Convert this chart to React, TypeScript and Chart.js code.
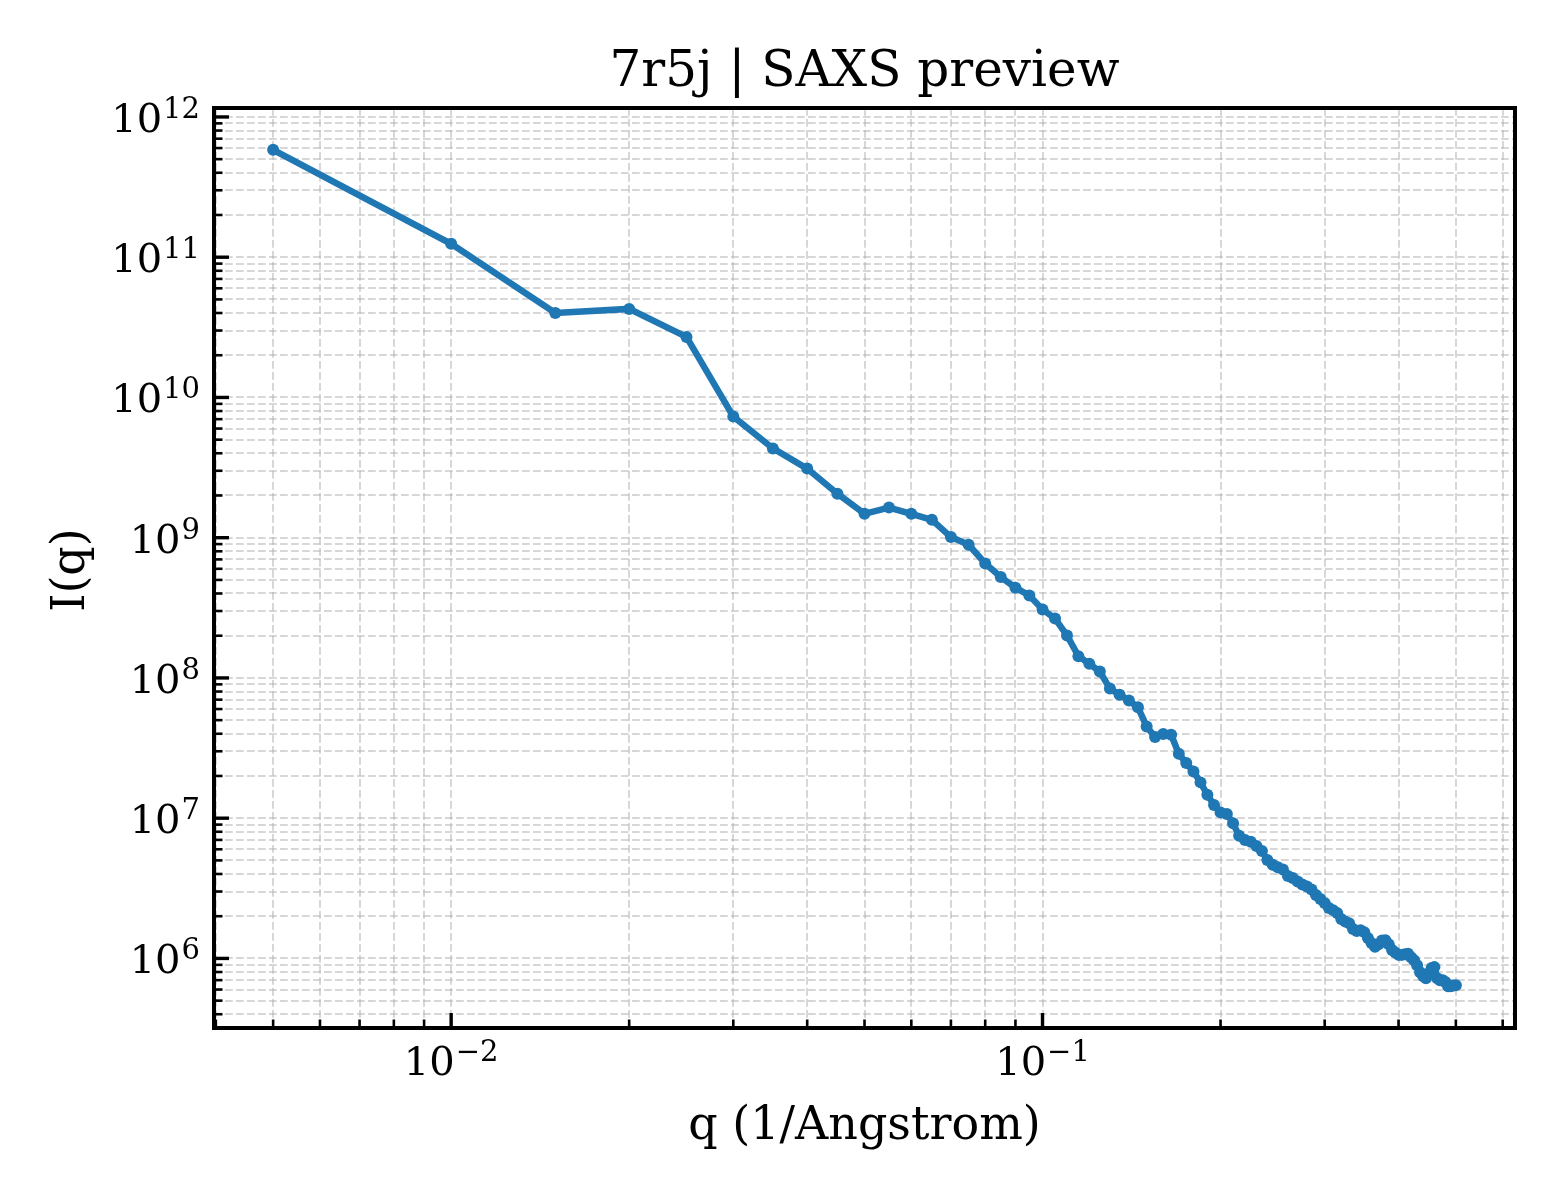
import { useEffect, useRef } from 'react';
import Chart, { type Plugin, type Scale } from 'chart.js/auto';

// scattering vector q (1/Angstrom)
const Q_VALUES: number[] = [
  0.005, 0.01, 0.015, 0.02, 0.025, 0.03, 0.035, 0.04, 0.045, 0.05,
  0.055, 0.06, 0.065, 0.07, 0.075, 0.08, 0.085, 0.09, 0.095, 0.1,
  0.105, 0.11, 0.115, 0.12, 0.125, 0.13, 0.135, 0.14, 0.145, 0.15,
  0.155, 0.16, 0.165, 0.17, 0.175, 0.18, 0.185, 0.19, 0.195, 0.2,
  0.205, 0.21, 0.215, 0.22, 0.225, 0.23, 0.235, 0.24, 0.245, 0.25,
  0.255, 0.26, 0.265, 0.27, 0.275, 0.28, 0.285, 0.29, 0.295, 0.3,
  0.305, 0.31, 0.315, 0.32, 0.325, 0.33, 0.335, 0.34, 0.345, 0.35,
  0.355, 0.36, 0.365, 0.37, 0.375, 0.38, 0.385, 0.39, 0.395, 0.4,
  0.405, 0.41, 0.415, 0.42, 0.425, 0.43, 0.435, 0.44, 0.445, 0.45,
  0.455, 0.46, 0.465, 0.47, 0.475, 0.48, 0.485, 0.49, 0.495, 0.5,
];

// scattered intensity I(q)
const INTENSITY: number[] = [
  5.83e11, 1.245e11, 4.0e10, 4.28e10, 2.7e10, 7.31e9, 4.33e9, 3.11e9, 2.06e9, 1.48e9,
  1.64e9, 1.48e9, 1.34e9, 1.01e9, 8.9e8, 6.55e8, 5.24e8, 4.4e8, 3.87e8, 3.08e8,
  2.65e8, 2.01e8, 1.43e8, 1.26e8, 1.11e8, 8.4e7, 7.6e7, 6.9e7, 6.17e7, 4.51e7,
  3.79e7, 3.98e7, 3.94e7, 2.88e7, 2.47e7, 2.15e7, 1.8e7, 1.47e7, 1.24e7, 1.1e7,
  1.07e7, 9.2e6, 7.48e6, 7.0e6, 6.8e6, 6.34e6, 5.83e6, 5.04e6, 4.65e6, 4.46e6,
  4.31e6, 3.87e6, 3.75e6, 3.54e6, 3.37e6, 3.26e6, 3.1e6, 2.83e6, 2.65e6, 2.48e6,
  2.29e6, 2.21e6, 2.11e6, 1.91e6, 1.83e6, 1.78e6, 1.62e6, 1.57e6, 1.59e6, 1.54e6,
  1.4e6, 1.29e6, 1.21e6, 1.26e6, 1.34e6, 1.35e6, 1.26e6, 1.15e6, 1.1e6, 1.06e6,
  1.06e6, 1.07e6, 1.08e6, 1.02e6, 9.7e5, 8.95e5, 7.98e5, 7.48e5, 7.23e5, 7.85e5,
  8.53e5, 8.67e5, 7.23e5, 7.0e5, 7.0e5, 6.78e5, 6.34e5, 6.34e5, 6.4e5, 6.44e5,
];

// labelled decades on each axis
const X_DECADES: number[] = [-2, -1];
const Y_DECADES: number[] = [6, 7, 8, 9, 10, 11, 12];

const TITLE = '7r5j | SAXS preview';
const X_LABEL = 'q (1/Angstrom)';
const Y_LABEL = 'I(q)';

const SERIF = '"DejaVu Serif", "Liberation Serif", serif';
const LINE_BLUE = '#1f77b4';
const GRID_GREY = 'rgba(176, 176, 176, 0.5)';

// matplotlib-like auto limits: 5% margin in log space
const logLimits = (vals: number[]): [number, number] => {
  const lo = Math.log10(Math.min(...vals));
  const hi = Math.log10(Math.max(...vals));
  const pad = (hi - lo) * 0.05;
  return [Math.pow(10, lo - pad), Math.pow(10, hi + pad)];
};

// 1..9 x 10^d inside [min, max]
const logTicks = (min: number, max: number) => {
  const out: { value: number; major: boolean }[] = [];
  for (let d = Math.floor(Math.log10(min)); d <= Math.ceil(Math.log10(max)); d++) {
    for (let m = 1; m <= 9; m++) {
      const v = m * Math.pow(10, d);
      if (v >= min && v <= max) out.push({ value: v, major: m === 1 });
    }
  }
  return out;
};

const setLogTicks = (scale: Scale) => {
  scale.ticks = logTicks(scale.min, scale.max).map((t) => ({ value: t.value }));
};

// draw "10" with a raised exponent
function drawPower(ctx: CanvasRenderingContext2D, exp: number, x: number, baseline: number, align: 'right' | 'center') {
  const baseFont = `40px ${SERIF}`;
  const supFont = `29px ${SERIF}`;
  const sup = exp < 0 ? '\u2212' + Math.abs(exp) : String(exp);
  ctx.font = baseFont;
  const bw = ctx.measureText('10').width;
  ctx.font = supFont;
  const sw = ctx.measureText(sup).width;
  const total = bw + 1 + sw;
  const left = align === 'right' ? x - total : x - total / 2;
  ctx.textAlign = 'left';
  ctx.textBaseline = 'alphabetic';
  ctx.font = baseFont;
  ctx.fillText('10', left, baseline);
  ctx.font = supFont;
  ctx.fillText(sup, left + bw + 1, baseline - 14);
}

// spines, inward ticks, tick labels, title and axis labels
const mplFrame: Plugin<'line'> = {
  id: 'mplFrame',
  afterDraw(chart) {
    const { ctx, chartArea: a } = chart;
    const xs = chart.scales.x;
    const ys = chart.scales.y;
    ctx.save();
    ctx.strokeStyle = '#000';
    ctx.fillStyle = '#000';

    logTicks(xs.min, xs.max).forEach((t) => {
      const px = xs.getPixelForValue(t.value);
      ctx.lineWidth = t.major ? 3.4 : 2.6;
      ctx.beginPath();
      ctx.moveTo(px, a.bottom);
      ctx.lineTo(px, a.bottom - (t.major ? 15 : 8.5));
      ctx.stroke();
    });
    logTicks(ys.min, ys.max).forEach((t) => {
      const py = ys.getPixelForValue(t.value);
      ctx.lineWidth = t.major ? 3.4 : 2.6;
      ctx.beginPath();
      ctx.moveTo(a.left, py);
      ctx.lineTo(a.left + (t.major ? 15 : 8.5), py);
      ctx.stroke();
    });

    ctx.lineWidth = 4;
    ctx.strokeRect(a.left, a.top, a.right - a.left, a.bottom - a.top);

    X_DECADES.forEach((d) => {
      drawPower(ctx, d, xs.getPixelForValue(Math.pow(10, d)), a.bottom + 47, 'center');
    });
    Y_DECADES.forEach((d) => {
      drawPower(ctx, d, a.left - 14, ys.getPixelForValue(Math.pow(10, d)) + 15, 'right');
    });

    const cx = (a.left + a.right) / 2;
    ctx.textAlign = 'center';
    ctx.textBaseline = 'alphabetic';
    ctx.font = `50px ${SERIF}`;
    ctx.fillText(TITLE, cx, 86);
    ctx.font = `46px ${SERIF}`;
    ctx.fillText(X_LABEL, cx, 1139);

    ctx.translate(84, (a.top + a.bottom) / 2 + 2);
    ctx.rotate(-Math.PI / 2);
    ctx.fillText(Y_LABEL, 0, 0);
    ctx.restore();
  },
};

export default function App() {
  const canvasRef = useRef<HTMLCanvasElement>(null);

  useEffect(() => {
    if (!canvasRef.current) return;
    const [xMin, xMax] = logLimits(Q_VALUES);
    const [yMin, yMax] = logLimits(INTENSITY);

    const gridOpts = { color: GRID_GREY, lineWidth: 2, drawTicks: false };
    const borderOpts = { display: false, dash: [7.7, 3.3] };

    const chart = new Chart(canvasRef.current, {
      type: 'line',
      data: {
        datasets: [
          {
            data: Q_VALUES.map((q, i) => ({ x: q, y: INTENSITY[i] })),
            borderColor: LINE_BLUE,
            backgroundColor: LINE_BLUE,
            borderWidth: 6.5,
            pointRadius: 6,
            pointBorderWidth: 0,
            pointBackgroundColor: LINE_BLUE,
            tension: 0,
            fill: false,
          },
        ],
      },
      options: {
        responsive: false,
        devicePixelRatio: 1,
        animation: false,
        layout: { padding: { top: 108, right: 45, left: 0, bottom: 0 } },
        plugins: {
          legend: { display: false },
          tooltip: { enabled: false },
          title: { display: false },
        },
        scales: {
          x: {
            type: 'logarithmic',
            min: xMin,
            max: xMax,
            ticks: { display: false },
            grid: gridOpts,
            border: borderOpts,
            afterBuildTicks: setLogTicks,
            afterFit: (s) => { s.height = 172; },
          },
          y: {
            type: 'logarithmic',
            min: yMin,
            max: yMax,
            ticks: { display: false },
            grid: gridOpts,
            border: borderOpts,
            afterBuildTicks: setLogTicks,
            afterFit: (s) => { s.width = 214; },
          },
        },
      },
      plugins: [mplFrame],
    });

    return () => chart.destroy();
  }, []);

  return (
    <div style={{ position: 'absolute', left: 0, top: 0, width: 1560, height: 1200, background: '#fff' }}>
      <canvas ref={canvasRef} width={1560} height={1200} />
    </div>
  );
}
